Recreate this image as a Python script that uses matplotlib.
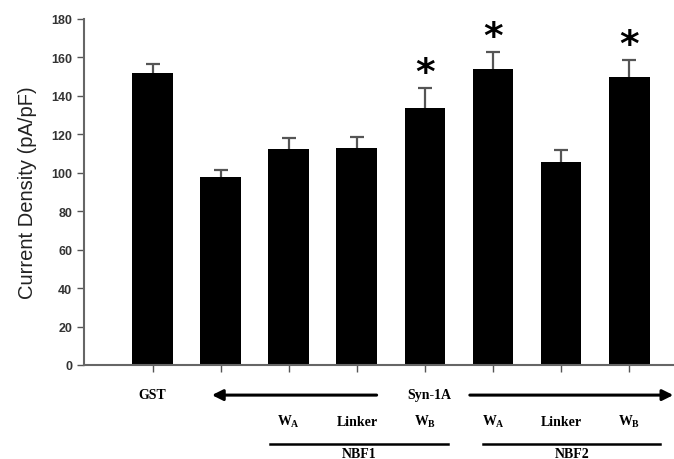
import matplotlib
matplotlib.use('Agg')
from matplotlib import pyplot as plt
import matplotlib.transforms as mtransforms
import numpy as np

# data
groups = ['GST', 'Syn-1A', 'NBF1 WA', 'NBF1 Linker', 'NBF1 WB', 'NBF2 WA', 'NBF2 Linker', 'NBF2 WB']
density = [152, 98, 112.5, 113, 133.5, 154, 105.5, 150]
sem = [4.5, 3.5, 5.5, 5.5, 10.5, 9.0, 6.5, 8.5]
signif = [False, False, False, False, True, True, False, True]

plt.rcParams['font.family'] = ['Liberation Sans', 'DejaVu Sans']
plt.rcParams['mathtext.fontset'] = 'custom'
plt.rcParams['mathtext.bf'] = 'Liberation Serif:bold'
plt.rcParams['mathtext.rm'] = 'Liberation Serif:bold'
plt.rcParams['mathtext.it'] = 'Liberation Serif:bold'

fig = plt.figure(figsize=(6.74, 4.6), dpi=100)
ax = fig.add_axes([84 / 674, 1 - 366 / 460, 590 / 674, 346 / 460])

x = np.arange(len(groups))
ax.bar(x, density, width=0.6, color='black', zorder=2)
# only the upper half shows, the lower cap is hidden under the bar
ax.errorbar(x, density, yerr=sem, fmt='none', ecolor='#555555',
            elinewidth=1.6, capsize=5, capthick=1.6, zorder=1)

for xi, d, s, star in zip(x, density, sem, signif):
    if star:
        ax.text(xi, d + s - 1.5, '*', ha='center', va='bottom', fontsize=27,
                fontweight='bold', family='DejaVu Sans')

ax.set_xlim(-1.01, 7.66)
ax.set_ylim(0, 180)
ax.set_yticks(np.arange(0, 181, 20))
ax.set_xticks(x)
ax.set_xticklabels([])
ax.tick_params(axis='y', direction='out', length=5, width=1, colors='#555555',
               labelsize=9, labelcolor='#333333')
ax.tick_params(axis='x', direction='out', length=5, width=1, colors='#555555')
for lab in ax.get_yticklabels():
    lab.set_fontweight('bold')
for side in ['top', 'right']:
    ax.spines[side].set_visible(False)
for side in ['left', 'bottom']:
    ax.spines[side].set_color('#666666')
    ax.spines[side].set_linewidth(1.5)

ax.set_ylabel('Current Density (pA/pF)', fontsize=14.5, color='#222222', labelpad=10)

# labels under the axis
trans = mtransforms.blended_transform_factory(ax.transData, ax.transAxes)
serif = dict(family=['Liberation Serif', 'DejaVu Serif'], fontweight='bold', fontsize=10,
             transform=trans, ha='center', va='center', clip_on=False)

ax.text(0, -0.084, 'GST', **serif)
ax.text(4.07, -0.084, 'Syn-1A', **serif)
ax.annotate('', xy=(0.87, -0.087), xytext=(3.29, -0.087), xycoords=trans, textcoords=trans,
            arrowprops=dict(arrowstyle='-|>', color='black', lw=2.2, mutation_scale=16,
                            shrinkA=0, shrinkB=0), annotation_clip=False)
ax.annotate('', xy=(7.65, -0.087), xytext=(4.66, -0.087), xycoords=trans, textcoords=trans,
            arrowprops=dict(arrowstyle='-|>', color='black', lw=2.2, mutation_scale=16,
                            shrinkA=0, shrinkB=0), annotation_clip=False)

sub_labels = [r'W$_{\mathbf{A}}$', 'Linker', r'W$_{\mathbf{B}}$']
for k, lab in enumerate(sub_labels * 2):
    ax.text(2 + k, -0.162, lab, **serif)

ax.plot([1.72, 4.34], [-0.228, -0.228], color='black', lw=1.8, transform=trans, clip_on=False)
ax.plot([4.85, 7.46], [-0.228, -0.228], color='black', lw=1.8, transform=trans, clip_on=False)
ax.text(3.03, -0.257, 'NBF1', **serif)
ax.text(6.16, -0.257, 'NBF2', **serif)

fig.savefig('out.png', dpi=100)
